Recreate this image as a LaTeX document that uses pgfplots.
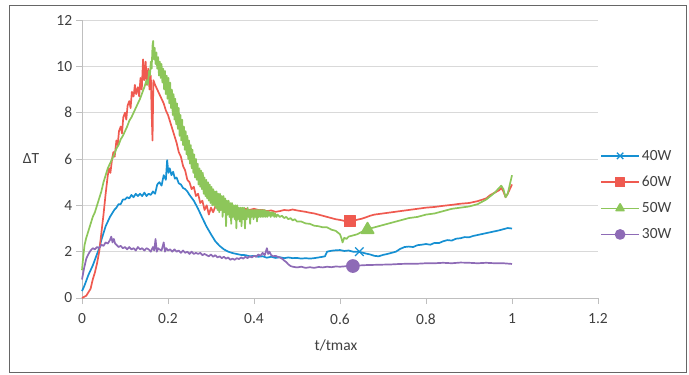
\documentclass[border=0pt]{standalone}
\usepackage{pgfplots}
\pgfplotsset{compat=1.18}
\usepackage{fontspec}
\setmainfont{Carlito}

\definecolor{c40}{HTML}{1690D2}
\definecolor{c60}{HTML}{EF5A50}
\definecolor{c50}{HTML}{8DC65A}
\definecolor{c30}{HTML}{8E6BB6}
\definecolor{txt}{HTML}{404040}
\definecolor{gridc}{HTML}{D9D9D9}
\definecolor{axc}{HTML}{BFBFBF}

\begin{document}
\begin{tikzpicture}[x=1pt,y=1pt]
\useasboundingbox (0,0) rectangle (689,-375);
\draw[gray!80!black, line width=0.7pt] (9,-5) rectangle (686,-372);
\begin{axis}[
  at={(82pt,-298pt)}, anchor=south west,
  scale only axis, width=516pt, height=278pt,
  xmin=0, xmax=1.2, ymin=0, ymax=12,
  xtick={0,0.2,0.4,0.6,0.8,1,1.2},
  ytick={0,2,4,6,8,10,12},
  axis x line=bottom, axis y line=left,
  axis line style={-, axc, line width=0.8pt},
  ymajorgrids, grid style={gridc, line width=0.8pt},
  tick align=outside,
  tick style={axc, line width=0.8pt},
  xtick style={/pgfplots/major tick length=6pt},
  ytick style={/pgfplots/major tick length=6pt},
  ticklabel style={font=\fontsize{15.5}{18}\selectfont, text=txt},
  /pgf/number format/assume math mode=true,
  xticklabel style={yshift=-8pt},
  yticklabel style={xshift=-2pt},
  clip=false,
  legend style={at={(1.004,0.54)}, anchor=north west, draw=none, fill=none,
    font=\fontsize{15.5}{18}\selectfont, text=txt, row sep=10.5pt, inner sep=0pt,
    /tikz/every even column/.append style={column sep=2pt}},
  legend cell align=left,
  legend image code/.code={\draw[mark repeat=2,mark phase=2, mark size=4.5pt]
    plot coordinates {(0pt,0pt) (19pt,0pt) (38pt,0pt)};},
  every axis plot/.append style={line width=1.7pt, line join=round},
]

% 40 W
\addplot[c40, forget plot] coordinates {
(0,0.3) (0.005,0.5) (0.01,0.75) (0.015,1.0) (0.02,1.2) (0.025,1.4) (0.03,1.65)
(0.035,1.9) (0.04,2.15) (0.045,2.5) (0.05,2.8) (0.055,3.1) (0.06,3.3)
(0.065,3.5) (0.07,3.65) (0.075,3.8) (0.08,3.9) (0.085,4.05) (0.09,4.05)
(0.095,4.25) (0.1,4.25) (0.105,4.35) (0.11,4.3) (0.115,4.45) (0.12,4.35)
(0.125,4.5) (0.13,4.4) (0.135,4.5) (0.14,4.4) (0.145,4.55) (0.15,4.4)
(0.155,4.5) (0.16,4.45) (0.165,4.6) (0.17,4.5) (0.175,4.9) (0.18,5.0)
(0.185,4.85) (0.19,5.3) (0.195,5.1) (0.198,5.95) (0.201,5.4) (0.204,5.6)
(0.208,5.3) (0.212,5.45) (0.216,5.15) (0.22,5.2) (0.225,4.95) (0.23,4.9)
(0.235,4.75) (0.24,4.7) (0.245,4.6) (0.25,4.45) (0.26,4.2) (0.27,3.85)
(0.28,3.45) (0.29,3.07) (0.3,2.75) (0.31,2.45) (0.32,2.25) (0.33,2.1)
(0.34,2.0) (0.35,1.94) (0.36,1.9) (0.37,1.86) (0.38,1.85) (0.39,1.8)
(0.4,1.82) (0.41,1.78) (0.42,1.8) (0.43,1.74) (0.44,1.78) (0.45,1.73)
(0.46,1.76) (0.47,1.72) (0.48,1.75) (0.49,1.72) (0.5,1.73) (0.51,1.7)
(0.52,1.72) (0.53,1.7) (0.54,1.72) (0.55,1.75) (0.56,1.78) (0.565,1.8)
(0.57,2.0) (0.58,2.04) (0.59,2.06) (0.6,2.07) (0.61,2.03) (0.62,2.05)
(0.63,2.0) (0.64,2.0) (0.65,1.97) (0.66,1.92) (0.67,1.88) (0.68,1.82)
(0.69,1.8) (0.7,1.86) (0.71,1.9) (0.72,1.95) (0.73,2.0) (0.74,2.12)
(0.75,2.2) (0.76,2.22) (0.77,2.2) (0.78,2.28) (0.79,2.3) (0.8,2.33)
(0.81,2.3) (0.82,2.38) (0.83,2.37) (0.84,2.45) (0.85,2.5) (0.86,2.48)
(0.87,2.56) (0.88,2.58) (0.89,2.63) (0.9,2.62) (0.91,2.68) (0.92,2.72)
(0.93,2.76) (0.94,2.8) (0.95,2.84) (0.96,2.88) (0.97,2.92) (0.98,2.97)
(0.99,3.02) (1.0,3.0)
};

% 60 W
\addplot[c60, forget plot] coordinates {
(0,0) (0.005,0.05) (0.01,0.1) (0.015,0.25) (0.02,0.4) (0.025,0.8)
(0.03,1.1) (0.035,1.5) (0.04,2.0) (0.045,2.8) (0.05,3.6) (0.055,4.5)
(0.06,5.3) (0.063,5.6) (0.066,5.4) (0.07,6.0) (0.073,6.3) (0.076,6.1)
(0.08,6.8) (0.083,6.6) (0.086,7.2) (0.09,7.4) (0.093,7.1) (0.096,7.8)
(0.1,8.0) (0.103,7.7) (0.106,8.3) (0.11,8.5) (0.113,8.2) (0.116,8.9)
(0.12,8.7) (0.123,9.2) (0.126,8.8) (0.13,9.1) (0.133,8.7) (0.136,9.5)
(0.139,9.0) (0.142,10.3) (0.145,9.4) (0.148,10.2) (0.151,9.2) (0.154,9.9)
(0.157,9.0) (0.16,9.6) (0.162,8.0) (0.164,6.8) (0.166,9.4) (0.17,9.2)
(0.175,9.0) (0.18,8.8) (0.185,8.6) (0.19,8.4) (0.195,8.1) (0.2,7.9)
(0.205,7.6) (0.21,7.3) (0.215,7.0) (0.22,6.7) (0.225,6.3) (0.23,6.1)
(0.235,5.7) (0.24,5.5) (0.245,5.1) (0.25,5.0) (0.255,4.7) (0.26,4.8)
(0.265,4.4) (0.27,4.5) (0.275,4.1) (0.28,4.2) (0.285,3.8) (0.29,4.0)
(0.295,3.6) (0.3,3.9) (0.305,3.7) (0.31,3.95) (0.32,3.8) (0.33,3.85)
(0.34,3.8) (0.35,3.9) (0.36,3.85) (0.37,3.8) (0.38,3.85) (0.39,3.8)
(0.4,3.85) (0.41,3.8) (0.42,3.8) (0.43,3.75) (0.44,3.78) (0.45,3.72)
(0.46,3.75) (0.47,3.8) (0.48,3.78) (0.49,3.82) (0.5,3.78) (0.51,3.75)
(0.52,3.72) (0.53,3.68) (0.54,3.65) (0.55,3.6) (0.56,3.55) (0.57,3.5)
(0.58,3.45) (0.59,3.4) (0.6,3.37) (0.61,3.33) (0.62,3.3) (0.63,3.32)
(0.64,3.38) (0.65,3.42) (0.66,3.48) (0.67,3.55) (0.68,3.6) (0.7,3.65)
(0.72,3.7) (0.74,3.75) (0.76,3.8) (0.78,3.85) (0.8,3.9) (0.82,3.93)
(0.84,3.98) (0.86,4.02) (0.88,4.07) (0.9,4.1) (0.92,4.18) (0.94,4.3)
(0.95,4.45) (0.96,4.55) (0.97,4.65) (0.975,4.75) (0.98,4.6) (0.985,4.35)
(0.99,4.5) (0.995,4.7) (1.0,4.9)
};

% 50 W
\addplot[c50, forget plot] coordinates {
(0,1.2) (0.003,1.8) (0.006,2.3) (0.01,2.6) (0.015,2.9) (0.02,3.2)
(0.025,3.5) (0.03,3.7) (0.035,4.0) (0.04,4.3) (0.045,4.6) (0.05,5.0)
(0.055,5.3) (0.06,5.6) (0.065,5.8) (0.07,6.0) (0.075,6.2) (0.08,6.45)
(0.085,6.6) (0.09,6.85) (0.095,7.0) (0.1,7.2) (0.105,7.4) (0.11,7.65)
(0.115,7.8) (0.12,8.0) (0.125,8.2) (0.13,8.4) (0.135,8.6) (0.14,8.85)
(0.145,9.1) (0.15,9.4) (0.153,9.2) (0.156,9.8) (0.158,9.6) (0.16,10.2)
(0.162,9.9) (0.164,10.9) (0.1655,11.1) (0.167,10.3) (0.169,10.8)
(0.171,10.1) (0.173,10.6) (0.175,9.9) (0.177,10.4) (0.179,9.6)
(0.181,10.2) (0.183,9.5) (0.185,10.1) (0.187,9.3) (0.189,9.9) (0.191,9.0)
(0.193,9.8) (0.195,8.8) (0.197,9.6) (0.199,8.6) (0.201,9.5) (0.203,8.4)
(0.205,9.3) (0.207,8.2) (0.209,9.0) (0.211,7.9) (0.213,8.8) (0.215,7.7)
(0.217,8.6) (0.219,7.5) (0.221,8.4) (0.223,7.3) (0.225,8.2) (0.227,7.0)
(0.229,7.9) (0.231,6.8) (0.233,7.7) (0.235,6.6) (0.237,7.4) (0.239,6.4)
(0.241,7.2) (0.243,6.2) (0.245,7.0) (0.247,6.0) (0.249,6.8) (0.251,5.8)
(0.253,6.6) (0.255,5.6) (0.257,6.4) (0.259,5.4) (0.261,6.2) (0.263,5.2)
(0.265,6.0) (0.267,5.1) (0.269,5.8) (0.271,4.9) (0.273,5.6) (0.275,4.8)
(0.277,5.5) (0.279,4.7) (0.281,5.4) (0.283,4.5) (0.285,5.2) (0.287,4.4)
(0.289,5.1) (0.291,4.3) (0.293,5.0) (0.295,4.2) (0.297,4.9) (0.299,4.1)
(0.301,4.8) (0.303,4.0) (0.305,4.7) (0.307,4.0) (0.309,4.6) (0.311,3.9)
(0.313,4.6) (0.315,3.8) (0.317,4.5) (0.319,3.7) (0.321,4.5) (0.323,3.8)
(0.325,4.4) (0.327,3.5) (0.329,4.4) (0.331,3.7) (0.333,4.3) (0.335,3.1)
(0.337,4.2) (0.339,3.6) (0.341,4.2) (0.343,3.5) (0.345,4.1) (0.347,3.2)
(0.349,4.1) (0.351,3.5) (0.353,4.0) (0.355,3.4) (0.357,4.0) (0.359,3.0)
(0.361,4.0) (0.363,3.4) (0.365,3.9) (0.367,3.3) (0.369,3.9) (0.371,3.1)
(0.373,3.9) (0.375,3.4) (0.377,3.9) (0.379,3.0) (0.381,3.8) (0.383,3.4)
(0.385,3.9) (0.387,3.5) (0.389,3.8) (0.391,3.2) (0.393,3.8) (0.395,3.5)
(0.397,3.8) (0.399,3.4) (0.401,3.8) (0.403,3.5) (0.405,3.8) (0.407,3.3)
(0.409,3.8) (0.411,3.5) (0.413,3.8) (0.415,3.5) (0.417,3.8) (0.419,3.5)
(0.421,3.8) (0.423,3.5) (0.425,3.8) (0.427,3.5) (0.429,3.75) (0.431,3.5)
(0.433,3.75) (0.435,3.55) (0.437,3.7) (0.439,3.5) (0.441,3.7) (0.443,3.55)
(0.445,3.7) (0.447,3.5) (0.449,3.65) (0.452,3.5) (0.455,3.6) (0.46,3.5)
(0.465,3.55) (0.47,3.45) (0.475,3.5) (0.48,3.4) (0.485,3.45) (0.49,3.35)
(0.495,3.4) (0.5,3.3) (0.51,3.3) (0.52,3.22) (0.53,3.2) (0.54,3.12)
(0.55,3.1) (0.56,3.05) (0.57,3.05) (0.58,2.95) (0.59,2.9) (0.6,2.75)
(0.603,2.6) (0.606,2.4) (0.61,2.6) (0.615,2.55) (0.62,2.65) (0.63,2.7)
(0.64,2.75) (0.65,2.85) (0.66,2.9) (0.67,3.0) (0.68,3.05) (0.69,3.1)
(0.7,3.15) (0.72,3.25) (0.74,3.35) (0.76,3.45) (0.78,3.5) (0.8,3.6)
(0.82,3.65) (0.84,3.75) (0.86,3.85) (0.88,3.9) (0.9,3.95) (0.92,4.05)
(0.94,4.25) (0.95,4.4) (0.96,4.55) (0.97,4.75) (0.975,4.85) (0.98,4.7)
(0.985,4.35) (0.99,4.5) (0.995,4.9) (1.0,5.3)
};

% 30 W
\addplot[c30, forget plot] coordinates {
(0,0.8) (0.005,1.3) (0.01,1.7) (0.015,1.9) (0.02,2.05) (0.025,2.15)
(0.03,2.1) (0.035,2.2) (0.04,2.15) (0.045,2.3) (0.05,2.25) (0.055,2.4)
(0.06,2.35) (0.065,2.5) (0.068,2.65) (0.071,2.4) (0.074,2.55) (0.077,2.35)
(0.08,2.3) (0.085,2.2) (0.09,2.25) (0.095,2.15) (0.1,2.2) (0.105,2.1)
(0.11,2.2) (0.115,2.1) (0.12,2.15) (0.125,2.05) (0.13,2.2) (0.135,2.1)
(0.14,2.15) (0.145,2.05) (0.15,2.15) (0.155,2.1) (0.16,2.0) (0.165,2.2)
(0.168,2.05) (0.171,2.55) (0.174,2.0) (0.177,2.15) (0.18,2.1) (0.185,2.05)
(0.19,2.4) (0.193,2.0) (0.196,2.15) (0.2,2.05) (0.205,2.1) (0.21,2.0)
(0.215,2.1) (0.22,2.0) (0.225,2.05) (0.23,1.95) (0.235,2.05) (0.24,1.95)
(0.245,2.0) (0.25,1.9) (0.255,2.0) (0.26,1.9) (0.265,1.95) (0.27,1.9)
(0.275,1.95) (0.28,1.85) (0.285,1.9) (0.29,1.85) (0.295,1.8) (0.3,1.88)
(0.305,1.78) (0.31,1.85) (0.315,1.75) (0.32,1.8) (0.325,1.72) (0.33,1.78)
(0.335,1.7) (0.34,1.75) (0.345,1.65) (0.35,1.7) (0.355,1.65) (0.36,1.72)
(0.365,1.68) (0.37,1.75) (0.375,1.7) (0.38,1.78) (0.385,1.72) (0.39,1.8)
(0.395,1.75) (0.4,1.82) (0.405,1.78) (0.41,1.88) (0.415,1.82) (0.42,1.95)
(0.425,1.85) (0.43,2.15) (0.433,1.9) (0.436,2.0) (0.44,1.85) (0.445,1.8)
(0.45,1.82) (0.455,1.78) (0.46,1.75) (0.465,1.7) (0.47,1.62) (0.475,1.55)
(0.48,1.45) (0.485,1.38) (0.49,1.35) (0.5,1.32) (0.51,1.35) (0.52,1.3)
(0.53,1.33) (0.54,1.3) (0.55,1.34) (0.56,1.32) (0.57,1.35) (0.58,1.33)
(0.59,1.36) (0.6,1.35) (0.62,1.38) (0.64,1.4) (0.66,1.42) (0.68,1.43)
(0.7,1.44) (0.72,1.45) (0.74,1.47) (0.76,1.48) (0.78,1.48) (0.8,1.5)
(0.82,1.5) (0.84,1.52) (0.86,1.5) (0.88,1.53) (0.9,1.52) (0.92,1.5)
(0.94,1.52) (0.96,1.5) (0.98,1.5) (1.0,1.47)
};

% series markers (one per series) and legend entries
\addplot[c40, mark=x, mark size=6pt, mark options={line width=1.3pt}]
  coordinates {(0.645,2.0)};
\addlegendentry{40W}
\addplot[c60, mark=square*, mark size=5.5pt] coordinates {(0.623,3.32)};
\addlegendentry{60W}
\addplot[c50, mark=triangle*, mark size=7pt] coordinates {(0.664,2.95)};
\addlegendentry{50W}
\addplot[c30, mark=*, mark size=6pt] coordinates {(0.63,1.38)};
\addlegendentry{30W}
\end{axis}
\node[text=txt, font=\fontsize{15.5}{18}\selectfont] at (31,-159) {ΔT};
\node[text=txt, font=\fontsize{15.5}{18}\selectfont] at (336,-345) {t/tmax};
\end{tikzpicture}
\end{document}
